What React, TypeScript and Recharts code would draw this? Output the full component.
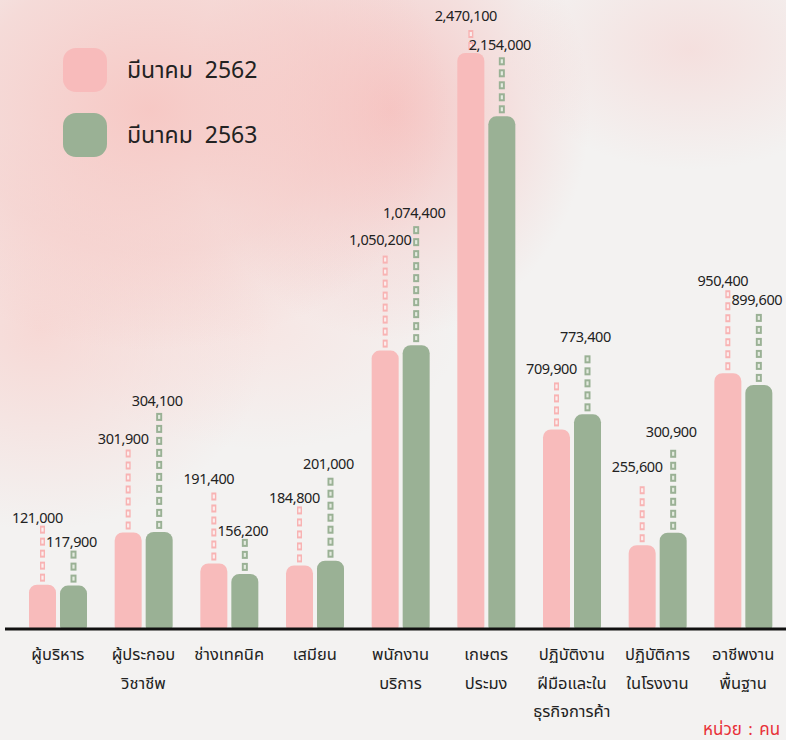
import React from 'react';
import { BarChart, Bar, XAxis, YAxis, Legend, LabelList } from 'recharts';

const categories = [
  'ผู้บริหาร',
  'ผู้ประกอบ\nวิชาชีพ',
  'ช่างเทคนิค',
  'เสมียน',
  'พนักงาน\nบริการ',
  'เกษตร\nประมง',
  'ปฏิบัติงาน\nฝีมือและใน\nธุรกิจการค้า',
  'ปฏิบัติการ\nในโรงงาน',
  'อาชีพงาน\nพื้นฐาน',
];
const march2562 = [121000, 301900, 191400, 184800, 1050200, 2470100, 709900, 255600, 950400];
const march2563 = [117900, 304100, 156200, 201000, 1074400, 2154000, 773400, 300900, 899600];

// how far each value tag sits above its bar (infographic style, hand placed)
const lift2562 = [68, 95, 85, 68, 112, 38, 61, 79, 93];
const lift2563 = [45, 132, 44, 98, 133, 72, 78, 102, 86];

const PINK = '#f8bbbb';
const GREEN = '#9ab195';
const FONT = "'Noto Sans', 'Noto Sans Thai', sans-serif";
// bars in the source are drawn on a compressed (power) scale
const EXP = 0.85;

const data = categories.map((name, i) => ({ name, a: march2562[i], b: march2563[i] }));

const fmt = (v: number) => v.toLocaleString('en-US');

const makeTag = (raw: number[], lift: number[], color: string, inner: string, dx: number, dashW: number) =>
  (props: any) => {
    const { x, y, width, index } = props;
    if (index == null) return null;
    const cx = Number(x) + Number(width) / 2;
    const top = Number(y);
    const ty = top - lift[index];
    const dashes = [];
    for (let yy = top - 11; yy >= ty + 9; yy -= 12) {
      dashes.push(
        <g key={yy}>
          <rect x={cx - dashW / 2} y={yy} width={dashW} height={8} fill={color} />
          <rect x={cx - 1.1} y={yy + 2} width={2.2} height={4} fill={inner} />
        </g>
      );
    }
    return (
      <g>
        {dashes}
        <text x={cx + dx} y={ty} textAnchor="middle" dominantBaseline="central" fontSize={14.5} fill="#222" fontFamily={FONT} letterSpacing={-0.4}>
          {fmt(raw[index])}
        </text>
      </g>
    );
  };

const CategoryTick = (props: any) => {
  const { x, y, payload } = props;
  const lines = String(payload.value).split('\n');
  return (
    <text x={x} y={y} textAnchor="middle" fontSize={16.5} fill="#222" fontFamily={FONT}>
      {lines.map((l, i) => (
        <tspan key={i} x={x} dy={i === 0 ? 23 : 28.5}>{l}</tspan>
      ))}
    </text>
  );
};

const LegendBox = (props: any) => {
  const items = props.payload || [];
  return (
    <div style={{ fontFamily: FONT }}>
      {items.map((it: any, i: number) => (
        <div key={i} style={{ display: 'flex', alignItems: 'center', height: 44, marginBottom: i === 0 ? 21 : 0 }}>
          <div style={{ width: 44, height: 44, borderRadius: 13, background: it.color }} />
          <span style={{ marginLeft: 20, fontSize: 23, color: '#222', wordSpacing: 6 }}>{it.value}</span>
        </div>
      ))}
    </div>
  );
};

const App = () => {
  return (
    <div
      style={{
        position: 'fixed',
        top: 0,
        left: 0,
        width: 786,
        height: 740,
        overflow: 'hidden',
        background: [
          'radial-gradient(ellipse 300px 240px at 150px 110px, rgba(247,196,192,0.9), rgba(247,196,192,0.5) 60%, rgba(247,196,192,0) 100%)',
          'radial-gradient(ellipse 200px 230px at 390px 110px, rgba(246,186,184,0.8), rgba(246,186,184,0) 100%)',
          'radial-gradient(ellipse 180px 120px at 690px 50px, rgba(246,208,206,0.55), rgba(246,208,206,0) 100%)',
          'radial-gradient(ellipse 230px 200px at 40px 330px, rgba(248,208,204,0.75), rgba(248,208,204,0) 100%)',
          'radial-gradient(ellipse 200px 120px at 260px 330px, rgba(249,222,219,0.6), rgba(249,222,219,0) 100%)',
          '#f3f2f1',
        ].join(','),
      }}
    >
      <BarChart
        width={786}
        height={740}
        data={data}
        margin={{ top: 53, right: 0, bottom: 0, left: 5 }}
        barSize={27}
        barGap={4}
      >
        <XAxis
          dataKey="name"
          interval={0}
          height={111}
          padding={{ left: 10, right: 0 }}
          axisLine={{ stroke: '#111', strokeWidth: 3 }}
          tickLine={false}
          tick={<CategoryTick />}
        />
        <YAxis hide domain={[0, 'dataMax']} />
        <Legend
          layout="vertical"
          align="center"
          verticalAlign="middle"
          wrapperStyle={{ top: 48, left: 63, width: 'auto' }}
          content={<LegendBox />}
        />
        <Bar
          name="มีนาคม 2562"
          dataKey={(d: any) => Math.pow(d.a, EXP)}
          fill={PINK}
          radius={[8, 8, 3, 3]}
          isAnimationActive={false}
        >
          <LabelList content={makeTag(march2562, lift2562, '#f8b3b3', '#fbeeee', -5, 5)} />
        </Bar>
        <Bar
          name="มีนาคม 2563"
          dataKey={(d: any) => Math.pow(d.b, EXP)}
          fill={GREEN}
          radius={[8, 8, 3, 3]}
          isAnimationActive={false}
        >
          <LabelList content={makeTag(march2563, lift2563, GREEN, '#e4ebe0', -2, 6)} />
        </Bar>
      </BarChart>
      <div
        style={{
          position: 'absolute',
          left: 703,
          top: 717,
          whiteSpace: 'nowrap',
          fontFamily: FONT,
          fontSize: 17,
          color: '#e8323a',
          wordSpacing: 2,
        }}
      >
        หน่วย : คน
      </div>
    </div>
  );
};

export default App;
